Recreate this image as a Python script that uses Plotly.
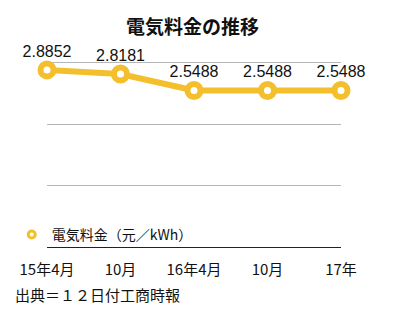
import plotly.graph_objects as go

categories = ["15年4月", "10月", "16年4月", "10月", "17年"]
values = [2.8852, 2.8181, 2.5488, 2.5488, 2.5488]
labels = ["2.8852", "2.8181", "2.5488", "2.5488", "2.5488"]
series_name = "電気料金（元／kWh）"
title_text = "電気料金の推移"
source_text = "出典＝１２日付工商時報"

GOLD = "#F3BF2C"
FONT = "Noto Sans CJK JP, sans-serif"
xs = list(range(len(categories)))

fig = go.Figure()
fig.add_trace(go.Scatter(
    x=xs, y=values, mode="lines+markers+text",
    text=labels, textposition="top center",
    textfont=dict(size=16, color="#111", family="Liberation Sans, Arial, sans-serif"),
    line=dict(color=GOLD, width=6),
    marker=dict(size=13, color="white", line=dict(color=GOLD, width=6)),
    cliponaxis=False, showlegend=False,
))
fig.add_trace(go.Scatter(
    x=[None], y=[None], mode="markers", name=series_name,
    marker=dict(size=7, color="white", line=dict(color=GOLD, width=3)),
    showlegend=True,
))

fig.update_layout(
    width=395, height=310,
    margin=dict(l=47, r=54, t=61, b=63),
    paper_bgcolor="white", plot_bgcolor="white",
    font=dict(family=FONT, size=15, color="#111"),
    xaxis=dict(
        range=[0, len(categories) - 1], tickvals=xs, ticktext=categories,
        showgrid=False, zeroline=False, showline=False,
        ticks="outside", ticklen=9, tickcolor="rgba(0,0,0,0)",
        tickfont=dict(size=15, family=FONT), fixedrange=True,
    ),
    yaxis=dict(
        range=[0, 3.03], tickvals=[1, 2, 3], showticklabels=False, showgrid=True,
        gridcolor="#b5b5b5", gridwidth=1, zeroline=True,
        zerolinecolor="#222", zerolinewidth=1, fixedrange=True,
    ),
    legend=dict(
        x=-0.12, xanchor="left", y=0.065, yanchor="middle",
        bgcolor="rgba(0,0,0,0)", font=dict(size=14, family=FONT),
        itemwidth=30,
    ),
    showlegend=True,
)
fig.add_annotation(
    text="<b>" + title_text + "</b>", xref="paper", yref="paper",
    x=0.495, y=1, yshift=36, xanchor="center", yanchor="middle",
    showarrow=False, font=dict(size=19, family=FONT, color="#111"),
)
fig.add_annotation(
    text=source_text, xref="paper", yref="paper",
    x=0, xshift=-34, y=0, yshift=-47, xanchor="left", yanchor="middle",
    showarrow=False, font=dict(size=15, family=FONT, color="#111"),
)
fig.write_html("out.html")
